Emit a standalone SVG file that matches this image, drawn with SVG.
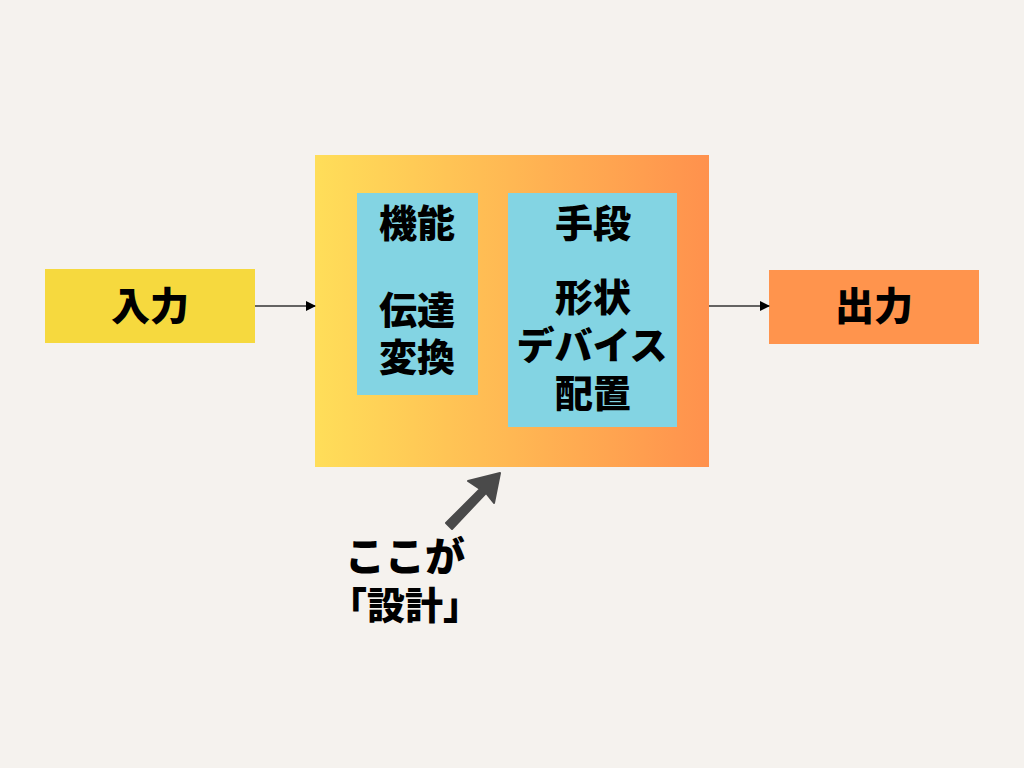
<svg xmlns="http://www.w3.org/2000/svg" width="1024" height="768" viewBox="0 0 1024 768">
<defs>
<linearGradient id="g" x1="0" y1="0" x2="1" y2="0">
<stop offset="0" stop-color="#ffde59"/>
<stop offset="1" stop-color="#ff914d"/>
</linearGradient>
<marker id="ah" markerWidth="10" markerHeight="10" refX="9" refY="5" orient="auto" markerUnits="userSpaceOnUse">
<path d="M0,0 L10,5 L0,10 Z" fill="#000"/>
</marker>
<style>
text{font-family:"Liberation Sans","Noto Sans CJK JP",sans-serif;font-weight:900;fill:#000;text-anchor:middle}
.t{font-size:39px}
.c{font-size:38px}
.inner{fill:#83d4e3}
.conn{stroke:#333;stroke-width:1.3;fill:none}
</style>
</defs>
<rect width="1024" height="768" fill="#f5f2ee"/>
<g id="input">
<rect x="45" y="269" width="210" height="74" fill="#f6d93e"/>
<text class="t" x="150" y="320">入力</text>
</g>
<g id="design">
<rect x="315" y="155" width="394" height="312" fill="url(#g)"/>
</g>
<g id="function">
<rect class="inner" x="357" y="193" width="121" height="202"/>
<text class="c" x="417" y="237">機能</text>
<text class="c" x="417" y="324">伝達</text>
<text class="c" x="417" y="371">変換</text>
</g>
<g id="means">
<rect class="inner" x="508" y="193" width="169" height="234"/>
<text class="c" x="593" y="237">手段</text>
<text class="c" x="593" y="311">形状</text>
<text class="c" x="592" y="359">デバイス</text>
<text class="c" x="593" y="407">配置</text>
</g>
<g id="output">
<rect x="769" y="270" width="210" height="74" fill="#ff944d"/>
<text class="t" x="874" y="320">出力</text>
</g>
<g id="connectors">
<line class="conn" x1="255" y1="306" x2="315" y2="306" marker-end="url(#ah)"/>
<line class="conn" x1="709" y1="306" x2="769" y2="306" marker-end="url(#ah)"/>
</g>
<g id="callout">
<polygon points="446,523 480,489 468,481 500,473 494,503 486,493 452,529" fill="#4a4a4a" stroke="#4a4a4a" stroke-width="2" stroke-linejoin="round"/>
<text x="405" y="571" style="font-size:40px">ここが</text>
<text x="405" y="619" style="font-size:38px">「設計」</text>
</g>
</svg>
